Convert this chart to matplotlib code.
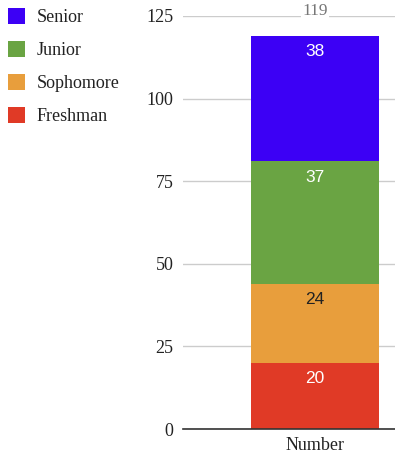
import matplotlib
matplotlib.use("Agg")
import matplotlib.pyplot as plt
from matplotlib.patches import Patch

category = ["Number"]
series = ["Freshman", "Sophomore", "Junior", "Senior"]
values = [20, 24, 37, 38]
colors = ["#e03a26", "#e89e3c", "#6aa443", "#3c00f5"]
label_colors = ["white", "#222222", "white", "white"]
yticks = [0, 25, 50, 75, 100, 125]

fig = plt.figure(figsize=(3.95, 4.54), dpi=100)
ax = fig.add_axes([183/395, 25/454, 212/395, 413/454])

serif = ["Liberation Serif", "DejaVu Serif"]
sans = ["Liberation Sans", "DejaVu Sans"]

bottom = 0
for name, v, c, lc in zip(series, values, colors, label_colors):
    ax.bar(0, v, width=1.0, bottom=bottom, color=c, zorder=3, linewidth=0)
    top = bottom + v
    ax.annotate(str(v), xy=(0, top), xytext=(0, -11.5), textcoords="offset points",
                ha="center", va="center", color=lc, fontsize=12.5, family=sans, zorder=4)
    bottom = top

total = sum(values)
ax.annotate(str(total), xy=(0, total), xytext=(0, 18), textcoords="offset points",
            ha="center", va="center", color="#777777", fontsize=12.5, family=serif, zorder=4,
            bbox=dict(boxstyle="square,pad=0.05", fc="white", ec="none"))

ax.set_xlim(-1.038, 0.628)
ax.set_ylim(0, 125)
ax.set_yticks(yticks)
ax.set_yticklabels([str(t) for t in yticks], family=serif, fontsize=13, color="#222222")
ax.set_xticks([0])
ax.set_xticklabels(category, family=serif, fontsize=13, color="#222222")
ax.tick_params(axis="y", length=0, pad=7)
ax.tick_params(axis="x", length=0, pad=5.5)
ax.grid(axis="y", color="#cccccc", linewidth=1, zorder=1)
for s in ["top", "right", "left"]:
    ax.spines[s].set_visible(False)
ax.spines["bottom"].set_color("#333333")
ax.spines["bottom"].set_linewidth(1.2)
ax.spines["bottom"].set_zorder(5)

handles = [Patch(facecolor=c, edgecolor="none") for c in colors[::-1]]
fig.legend(handles, series[::-1], loc="upper left", bbox_to_anchor=(0.0, 1.0),
           frameon=False, prop={"family": serif, "size": 13},
           handlelength=0.95, handleheight=0.95, labelspacing=0.83,
           handletextpad=0.65, borderaxespad=0.25, borderpad=0.2,
           labelcolor="#222222")

fig.savefig("out.png", dpi=100)
